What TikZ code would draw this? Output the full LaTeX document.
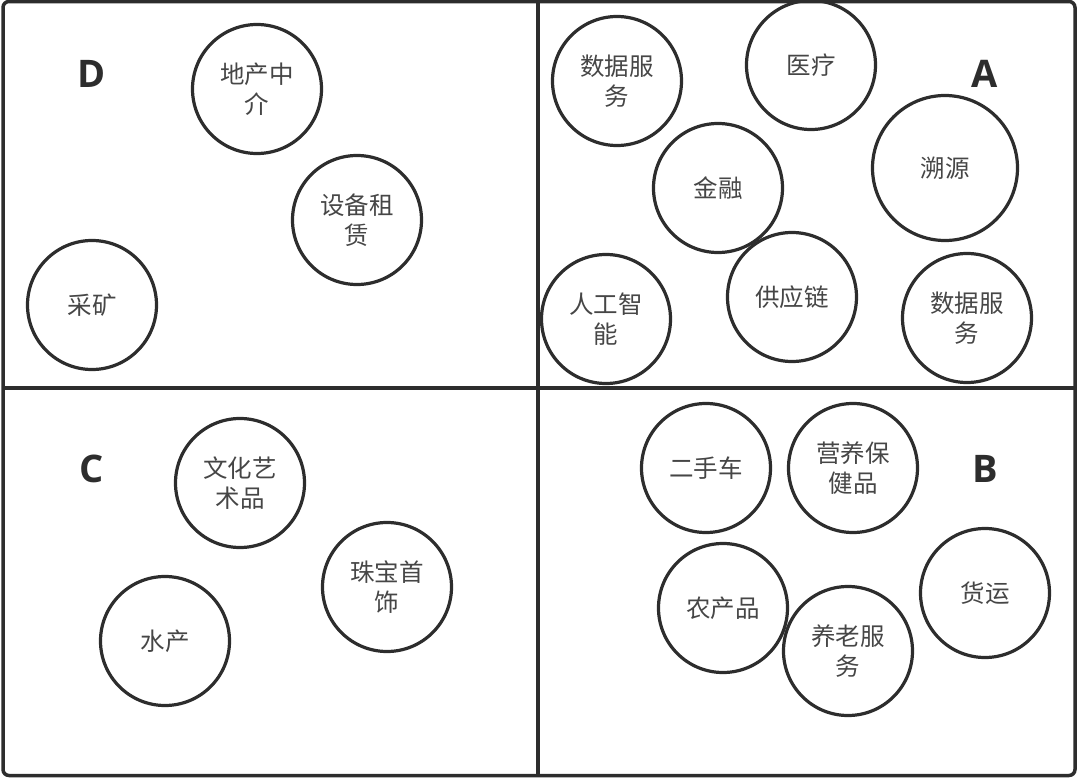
\documentclass[tikz,border=0pt]{standalone}
\usepackage{fontspec}
\usepackage{tikz}
\newfontfamily\cjk{Noto Sans CJK SC}
\newfontfamily\latin{Open Sans}
\definecolor{linegray}{RGB}{45,45,45}
\definecolor{textgray}{RGB}{70,70,70}

\begin{document}
\begin{tikzpicture}[x=1pt,y=1pt,yscale=-1,xscale=1,
  bubble/.style={draw=linegray,line width=3.2pt,circle,minimum size=129pt,inner sep=0pt,
    align=center,text=textgray,font=\cjk\fontsize{24.5}{30}\selectfont},
  quadlabel/.style={text=linegray,font=\latin\bfseries\fontsize{38}{38}\selectfont,inner sep=0pt}]
\useasboundingbox (0,0) rectangle (1080,782);

%Frame and quadrants
\draw [draw=linegray,line width=3.5pt,rounded corners=6pt] (3,1.5) rectangle (1075,775.5);
\draw [draw=linegray,line width=3.5pt] (538,1.5) -- (538,775.5);
\draw [draw=linegray,line width=3.5pt] (3,388) -- (1075,388);

% Quadrant labels
\draw (92,74) node [quadlabel] (labD) {D};
\draw (985,74) node [quadlabel] (labA) {A};
\draw (92,469) node [quadlabel] (labC) {C};
\draw (985,469) node [quadlabel] (labB) {B};

% Quadrant D
\draw (257,89) node [bubble] (dizhan) {地产中\\介};
\draw (357,220) node [bubble] (shebei) {设备租\\赁};
\draw (92,305) node [bubble] (caikuang) {采矿};

% Quadrant A
\draw (617,81) node [bubble] (shujuA) {数据服\\务};
\draw (811,65) node [bubble] (yiliao) {医疗};
\draw (718,188) node [bubble] (jinrong) {金融};
\draw (945,168) node [bubble,minimum size=145pt] (suyuan) {溯源};
\draw (606,319) node [bubble] (rengong) {人工智\\能};
\draw (792,297) node [bubble] (gongying) {供应链};
\draw (967,318) node [bubble] (shujuB) {数据服\\务};

% Quadrant C
\draw (240,483) node [bubble] (wenhua) {文化艺\\术品};
\draw (387,587) node [bubble] (zhubao) {珠宝首\\饰};
\draw (165,641) node [bubble] (shuichan) {水产};

% Quadrant B
\draw (706,468) node [bubble] (ershou) {二手车};
\draw (853,468) node [bubble] (yingyang) {营养保\\健品};
\draw (723,608) node [bubble] (nongchan) {农产品};
\draw (985,593) node [bubble] (huoyun) {货运};
\draw (848,651) node [bubble] (yanglao) {养老服\\务};

\end{tikzpicture}
\end{document}
